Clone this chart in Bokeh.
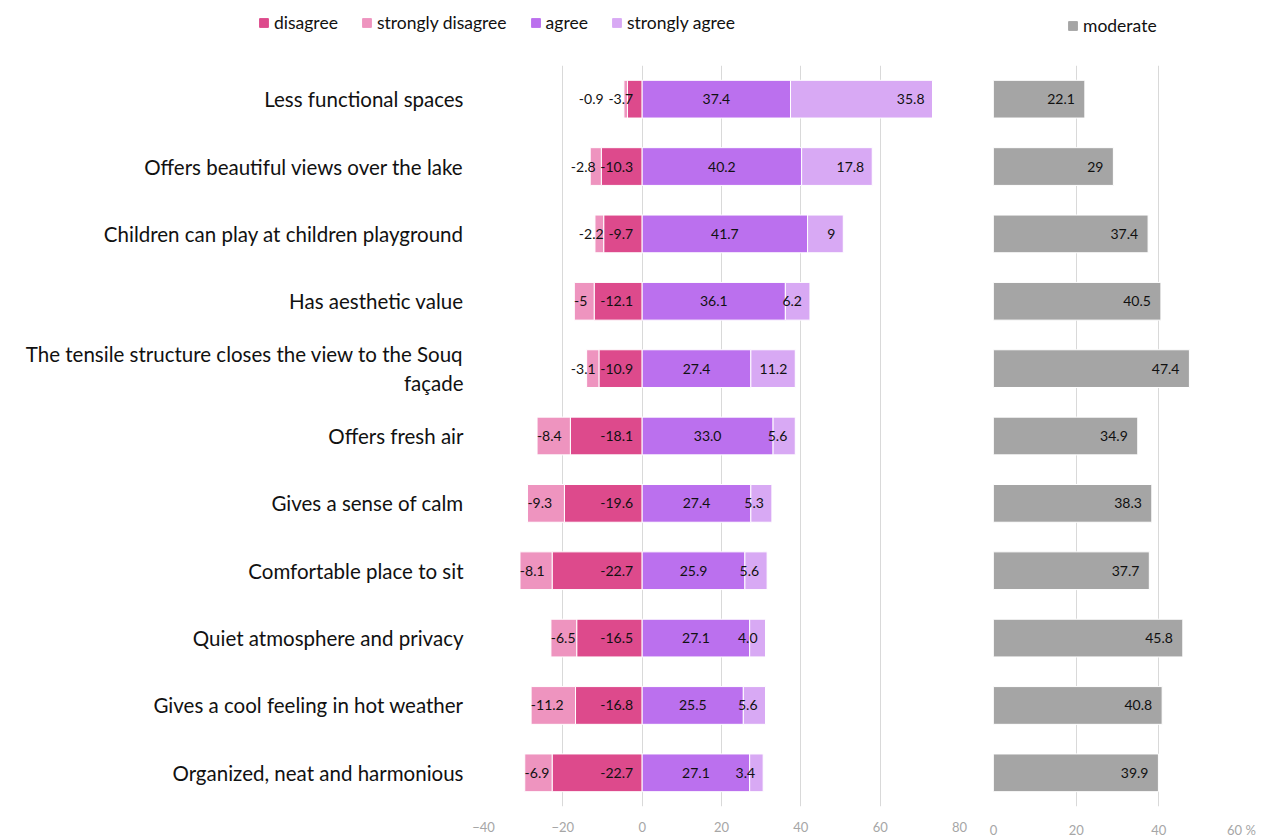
from bokeh.plotting import figure
from bokeh.models import ColumnDataSource, FactorRange, Range1d, Legend, LegendItem, FixedTicker
from bokeh.layouts import row, column
from bokeh.embed import file_html
from bokeh.resources import INLINE
from bokeh.core.properties import value

categories = [
    "Less functional spaces",
    "Offers beautiful views over the lake",
    "Children can play at children playground",
    "Has aesthetic value",
    "The tensile structure closes the view to the Souq\nfaçade",
    "Offers fresh air",
    "Gives a sense of calm",
    "Comfortable place to sit",
    "Quiet atmosphere and privacy",
    "Gives a cool feeling in hot weather",
    "Organized, neat and harmonious",
]
disagree = [-3.7, -10.3, -9.7, -12.1, -10.9, -18.1, -19.6, -22.7, -16.5, -16.8, -22.7]
strongly_disagree = [-0.9, -2.8, -2.2, -5, -3.1, -8.4, -9.3, -8.1, -6.5, -11.2, -6.9]
agree = [37.4, 40.2, 41.7, 36.1, 27.4, 33.0, 27.4, 25.9, 27.1, 25.5, 27.1]
strongly_agree = [35.8, 17.8, 9, 6.2, 11.2, 5.6, 5.3, 5.6, 4.0, 5.6, 3.4]
moderate = [22.1, 29, 37.4, 40.5, 47.4, 34.9, 38.3, 37.7, 45.8, 40.8, 39.9]
left_ticks = [-40, -20, 0, 20, 40, 60, 80]
right_ticks = [0, 20, 40, 60]
series_names = ["disagree", "strongly disagree", "agree", "strongly agree"]
moderate_name = "moderate"

C_D = "#DD4A8C"
C_SD = "#EE94BF"
C_A = "#BB70EE"
C_SA = "#D8A9F4"
C_M = "#A5A5A5"
FONT = "Lato"
LBL = "14px"

FRAME_W = 476
SCALE = FRAME_W / (left_ticks[-1] - left_ticks[0])


def tw(s):
    # rough text width estimate in px for 14px labels
    w = 0
    for ch in s:
        w += 8.0 if ch.isdigit() else (5.0 if ch == "-" else 3.6)
    return w


sd_off = []
for d, sd in zip(disagree, strongly_disagree):
    start = (d + sd) * SCALE
    wd = tw(str(d))
    ws = tw(str(sd))
    dl_left = -9 - wd
    sd_off.append(min(start + ws, dl_left - 5))

src = ColumnDataSource(dict(
    cat=categories,
    d_l=[0] * len(categories), d_r=disagree,
    sd_l=list(disagree), sd_r=[d + s for d, s in zip(disagree, strongly_disagree)],
    a_l=[0] * len(categories), a_r=agree,
    sa_l=agree, sa_r=[a + s for a, s in zip(agree, strongly_agree)],
    a_mid=[a / 2 for a in agree],
    m_l=[0] * len(categories), m_r=moderate,
    d_txt=[str(v) for v in disagree],
    sd_txt=[str(v) for v in strongly_disagree],
    a_txt=[str(v) for v in agree],
    sa_txt=[str(v) for v in strongly_agree],
    m_txt=[str(v) for v in moderate],
    zero=[0] * len(categories),
    sd_off=sd_off,
))

yr = FactorRange(factors=categories[::-1], range_padding=0)

W = 1265
LEG_H = 50
H = 840 - LEG_H
TOP = 15
BOT = 25

# ---- legend strip (legend swatches only; its placeholder bars lie outside its range) ----
lg = figure(width=W, height=LEG_H, x_range=Range1d(0, 1), y_range=Range1d(0, 1),
            output_backend="svg", toolbar_location=None,
            min_border=0, min_border_left=0, min_border_right=0, min_border_top=0, min_border_bottom=0)
lg.axis.visible = False
lg.grid.visible = False
lg.outline_line_color = None
offscreen = ColumnDataSource(dict(y=[-10], l=[0], r=[1]))
dummies = []
for c in (C_D, C_SD, C_A, C_SA, C_M):
    dummies.append(lg.hbar(y="y", left="l", right="r", height=1, source=offscreen, fill_color=c, line_color=c))

leg_style = dict(orientation="horizontal", label_text_font=FONT, label_text_font_size="17.5px",
                 label_text_color="#111111", glyph_width=11, glyph_height=11, label_standoff=5,
                 label_height=17, border_line_color=None, background_fill_alpha=0, padding=0, margin=0)
leg = Legend(items=[LegendItem(label=n, renderers=[r]) for n, r in zip(series_names, dummies[:4])],
             location=(258, LEG_H - 24 - 9), spacing=23, **leg_style)
lg.add_layout(leg, "center")
leg2 = Legend(items=[LegendItem(label=moderate_name, renderers=[dummies[4]])],
              location=(1067, LEG_H - 27 - 9), **leg_style)
lg.add_layout(leg2, "center")

# ---- left chart ----
p = figure(width=975, height=H, y_range=yr, x_range=Range1d(left_ticks[0], left_ticks[-1]),
           output_backend="svg", toolbar_location=None,
           min_border_left=483, min_border_right=16, min_border_top=TOP, min_border_bottom=BOT)
p.outline_line_color = None

BH = 0.56
p.hbar(y="cat", left="d_l", right="d_r", height=BH, source=src, fill_color=C_D, line_color="white", line_width=1)
p.hbar(y="cat", left="sd_l", right="sd_r", height=BH, source=src, fill_color=C_SD, line_color="white", line_width=1)
p.hbar(y="cat", left="a_l", right="a_r", height=BH, source=src, fill_color=C_A, line_color="white", line_width=1)
p.hbar(y="cat", left="sa_l", right="sa_r", height=BH, source=src, fill_color=C_SA, line_color="white", line_width=1)

common = dict(source=src, text_font=value(FONT), text_font_size=LBL, text_color="#111111", text_baseline="middle")
p.text(x="zero", y="cat", text="d_txt", text_align="right", x_offset=-9, **common)
p.text(x="zero", y="cat", text="sd_txt", text_align="right", x_offset="sd_off", **common)
p.text(x="a_mid", y="cat", text="a_txt", text_align="center", **common)
p.text(x="sa_r", y="cat", text="sa_txt", text_align="right", x_offset=-8, **common)

p.xaxis.ticker = FixedTicker(ticks=left_ticks)
p.xgrid.ticker = FixedTicker(ticks=left_ticks)
p.xgrid.grid_line_color = "#D9D9D9"
p.ygrid.grid_line_color = None
xa = p.xaxis[0]
xa.axis_line_color = None
xa.major_tick_line_color = None
xa.minor_tick_line_color = None
xa.major_label_text_color = "#A6A6A6"
xa.major_label_text_font = FONT
xa.major_label_text_font_size = "13px"
xa.major_label_standoff = 9
ya = p.yaxis[0]
ya.axis_line_color = None
ya.major_tick_line_color = None
ya.minor_tick_line_color = None
ya.major_label_text_font = FONT
ya.major_label_text_font_size = "20.5px"
ya.major_label_text_color = "#111111"
ya.major_label_standoff = 14

# ---- right chart ----
q = figure(width=W - 975, height=H, y_range=yr, x_range=Range1d(right_ticks[0], right_ticks[-1]),
           output_backend="svg", toolbar_location=None,
           min_border_left=18, min_border_right=24, min_border_top=TOP, min_border_bottom=BOT)
q.outline_line_color = None
q.hbar(y="cat", left="m_l", right="m_r", height=BH, source=src, fill_color=C_M, line_color="white", line_width=1)
q.text(x="m_r", y="cat", text="m_txt", text_align="right", x_offset=-10, **common)
q.yaxis.visible = False
q.xaxis.ticker = FixedTicker(ticks=right_ticks)
q.xaxis.major_label_overrides = {60: "60 %"}
q.xgrid.ticker = FixedTicker(ticks=right_ticks)
q.xgrid.grid_line_color = "#D9D9D9"
q.ygrid.grid_line_color = None
qa = q.xaxis[0]
qa.axis_line_color = None
qa.major_tick_line_color = None
qa.minor_tick_line_color = None
qa.major_label_text_color = "#A6A6A6"
qa.major_label_text_font = FONT
qa.major_label_text_font_size = "13px"
qa.major_label_standoff = 9

layout = column(lg, row(p, q))
open("out.html", "w").write(file_html(layout, INLINE))
